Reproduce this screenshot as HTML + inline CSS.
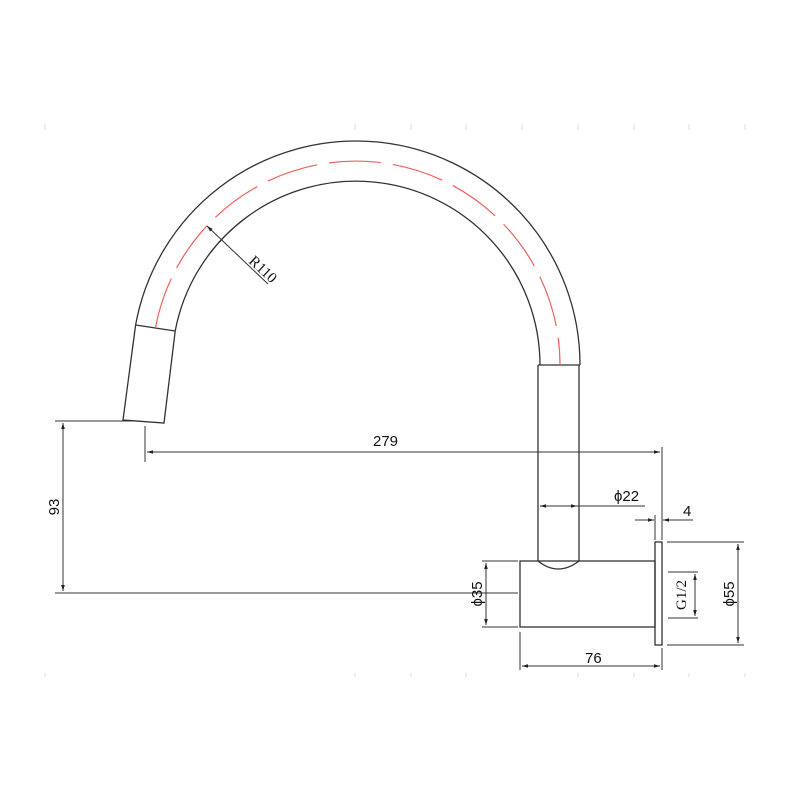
<!DOCTYPE html>
<html><head><meta charset="utf-8"><style>
html,body{margin:0;padding:0;background:#fff;}
svg{display:block;}
text{font-family:"Liberation Sans Narrow","Liberation Sans",sans-serif;font-size:15px;fill:#111;}
</style></head><body>
<svg width="800" height="800" viewBox="0 0 800 800" xmlns="http://www.w3.org/2000/svg">
<defs>
<marker id="a" viewBox="0 0 10 10" refX="10" refY="5" markerWidth="8" markerHeight="6" orient="auto-start-reverse"><path d="M0,2 L10,5 L0,8 z" fill="#222"/></marker>
</defs>
<g stroke="#ddd" stroke-width="1">
<line x1="45" y1="124" x2="45" y2="130"/><line x1="355" y1="124" x2="355" y2="130"/><line x1="411" y1="124" x2="411" y2="130"/><line x1="466" y1="124" x2="466" y2="130"/><line x1="522" y1="124" x2="522" y2="130"/><line x1="578" y1="124" x2="578" y2="130"/><line x1="634" y1="124" x2="634" y2="130"/><line x1="689" y1="124" x2="689" y2="130"/><line x1="745" y1="124" x2="745" y2="130"/>
<line x1="45" y1="673" x2="45" y2="677"/><line x1="355" y1="673" x2="355" y2="677"/><line x1="411" y1="673" x2="411" y2="677"/><line x1="466" y1="673" x2="466" y2="677"/><line x1="578" y1="673" x2="578" y2="677"/><line x1="634" y1="673" x2="634" y2="677"/><line x1="689" y1="673" x2="689" y2="677"/><line x1="745" y1="673" x2="745" y2="677"/>
</g>
<g fill="none" stroke="#333" stroke-width="1.3">
<path d="M580,365 A224,224 0 0 0 135.6,325"/>
<path d="M540,365 A184,184 0 0 0 175.2,331"/>
<line x1="135.6" y1="325" x2="175.2" y2="331"/>
<path d="M135.6,325 L123,420 L164,423 L175.2,331"/>
<line x1="538" y1="365" x2="580" y2="365"/>
<line x1="538" y1="365" x2="538" y2="561"/>
<line x1="579" y1="365" x2="579" y2="561"/>
<path d="M538,561 Q558,577 579,561"/>
<rect x="520" y="561" width="135" height="66"/>
<rect x="655" y="542" width="7" height="103"/>
</g>
<path d="M155.4,328 A204,204 0 0 1 560,365" fill="none" stroke="#f06060" stroke-width="1.2" stroke-dasharray="52,12"/>
<g fill="none" stroke="#333" stroke-width="1">
<line x1="55" y1="421" x2="140" y2="421"/>
<line x1="55" y1="593" x2="518" y2="593"/>
<line x1="63" y1="423" x2="63" y2="591" marker-start="url(#a)" marker-end="url(#a)"/>
<line x1="145" y1="426" x2="145" y2="462"/>
<line x1="662" y1="447" x2="662" y2="540"/>
<line x1="147" y1="452" x2="660" y2="452" marker-start="url(#a)" marker-end="url(#a)"/>
<line x1="540" y1="506" x2="577" y2="506" marker-start="url(#a)" marker-end="url(#a)"/>
<line x1="577" y1="506" x2="645" y2="506"/>
<line x1="635" y1="520" x2="654" y2="520" marker-end="url(#a)"/>
<line x1="693" y1="520" x2="663" y2="520" marker-end="url(#a)"/>
<line x1="655" y1="515" x2="655" y2="540"/>
<line x1="482" y1="561" x2="518" y2="561"/>
<line x1="482" y1="627" x2="518" y2="627"/>
<line x1="486" y1="563" x2="486" y2="625" marker-start="url(#a)" marker-end="url(#a)"/>
<line x1="460" y1="593" x2="515" y2="593"/>
<line x1="520" y1="632" x2="520" y2="670"/>
<line x1="662" y1="648" x2="662" y2="670"/>
<line x1="522" y1="666" x2="660" y2="666" marker-start="url(#a)" marker-end="url(#a)"/>
<line x1="667" y1="542" x2="744" y2="542"/>
<line x1="667" y1="645" x2="744" y2="645"/>
<line x1="738" y1="544" x2="738" y2="643" marker-start="url(#a)" marker-end="url(#a)"/>
<line x1="668" y1="572" x2="698" y2="572"/>
<line x1="668" y1="618" x2="698" y2="618"/>
<line x1="695" y1="574" x2="695" y2="616" marker-start="url(#a)" marker-end="url(#a)"/>
<line x1="268" y1="284" x2="207" y2="226" marker-end="url(#a)"/>
</g>
<text x="373" y="446">279</text>
<text x="614" y="501">ϕ22</text>
<text x="683" y="516">4</text>
<text x="585" y="663">76</text>
<text transform="translate(59,507) rotate(-90)" text-anchor="middle">93</text>
<text transform="translate(482,594) rotate(-90)" text-anchor="middle">ϕ35</text>
<text transform="translate(734,594) rotate(-90)" text-anchor="middle">ϕ55</text>
<text transform="translate(686,595) rotate(-90)" text-anchor="middle" style="font-family:'Liberation Serif',serif">G1/2</text>
<text transform="translate(248,262) rotate(43)" style="font-family:'Liberation Serif',serif">R110</text>
</svg>
</body></html>
